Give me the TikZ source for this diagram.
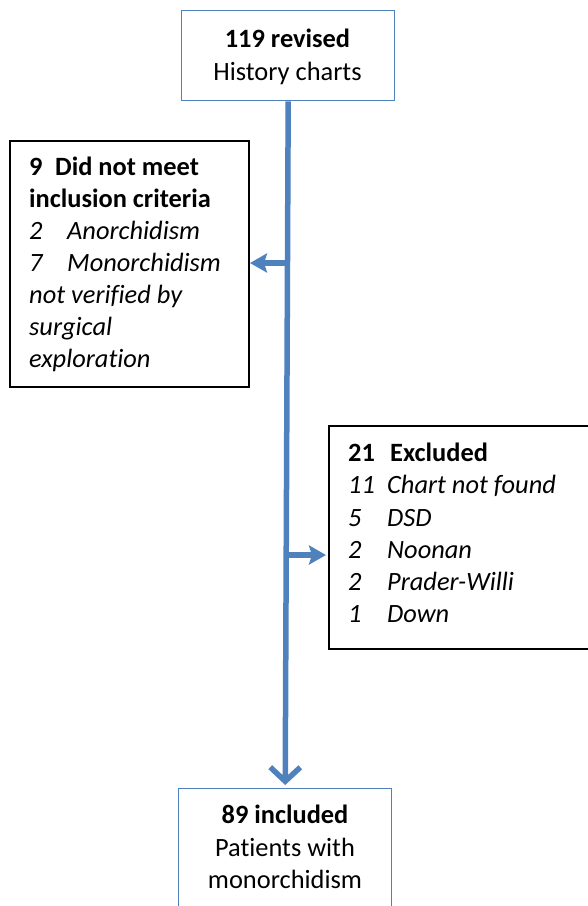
\documentclass[tikz,border=0pt]{standalone}
\usepackage{fontspec}
\setmainfont{Carlito}[Ligatures=NoCommon]
\usetikzlibrary{arrows.meta}
\definecolor{flowblue}{RGB}{79,129,189}
\begin{document}
\begin{tikzpicture}[x=1pt,y=-1pt,
  bluebox/.style={draw=flowblue,line width=1.4pt,fill=white,anchor=north west,inner sep=0pt},
  blackbox/.style={draw=black,line width=2pt,fill=white,anchor=north west,inner sep=0pt},
  txt/.style={inner sep=0pt,font=\fontsize{26.4}{32}\selectfont},
  flow/.style={draw=flowblue,line width=5.5pt},
  sidearrow/.style={flow,-{Stealth[length=17pt,width=19pt,inset=3pt]}},
  mainarrow/.style={flow,-{Straight Barb[length=14pt,width=30pt,line width=5.5pt]}}
]
\useasboundingbox (0,0) rectangle (588,906);
% boxes
\node[bluebox,minimum width=213pt,minimum height=90pt] (top) at (181,10) {};
\node[blackbox,minimum width=239pt,minimum height=246pt] (left) at (9,140) {};
\node[blackbox,minimum width=280pt,minimum height=223pt] (right) at (328,425) {};
\node[bluebox,minimum width=213pt,minimum height=140pt] (bot) at (178,788) {};
% connectors
\draw[mainarrow] (top.south) -- ([yshift=3pt]bot.north);
\coordinate (j1) at (287,263);
\coordinate (j2) at (286,555);
\draw[sidearrow] (j1) -- (left.east |- j1);
\draw[sidearrow] (j2) -- ([xshift=-2pt]right.west |- j2);
% top text
\node[txt,anchor=base] (t1) at (287.5,47) {\textbf{119 revised}};
\node[txt,anchor=base] (t2) at (287.5,80) {History charts};
% left text
\node[txt,anchor=base west] (l1) at (29,175) {\textbf{\makebox[26pt][l]{9}Did not meet}};
\node[txt,anchor=base west] (l2) at (29,207) {\textbf{inclusion criteria}};
\node[txt,anchor=base west] (l3) at (29,239) {\textit{\makebox[38pt][l]{2}Anorchidism}};
\node[txt,anchor=base west] (l4) at (29,271) {\textit{\makebox[38pt][l]{7}Monorchidism}};
\node[txt,anchor=base west] (l5) at (29,303) {\textit{not verified by}};
\node[txt,anchor=base west] (l6) at (29,335) {\textit{surgical}};
\node[txt,anchor=base west] (l7) at (29,367) {\textit{exploration}};
% right text
\node[txt,anchor=base west] (r1) at (348,461) {\textbf{\makebox[42pt][l]{21}Excluded}};
\node[txt,anchor=base west] (r2) at (348,493) {\textit{\makebox[39pt][l]{11}Chart not found}};
\node[txt,anchor=base west] (r3) at (348,526) {\textit{\makebox[39pt][l]{5}DSD}};
\node[txt,anchor=base west] (r4) at (348,558) {\textit{\makebox[39pt][l]{2}Noonan}};
\node[txt,anchor=base west] (r5) at (348,590) {\textit{\makebox[39pt][l]{2}Prader-Willi}};
\node[txt,anchor=base west] (r6) at (348,622) {\textit{\makebox[39pt][l]{1}Down}};
% bottom text
\node[txt,anchor=base] (b1) at (285,823) {\textbf{89 included}};
\node[txt,anchor=base] (b2) at (285,856) {Patients with};
\node[txt,anchor=base] (b3) at (285,888) {monorchidism};
\end{tikzpicture}
\end{document}
